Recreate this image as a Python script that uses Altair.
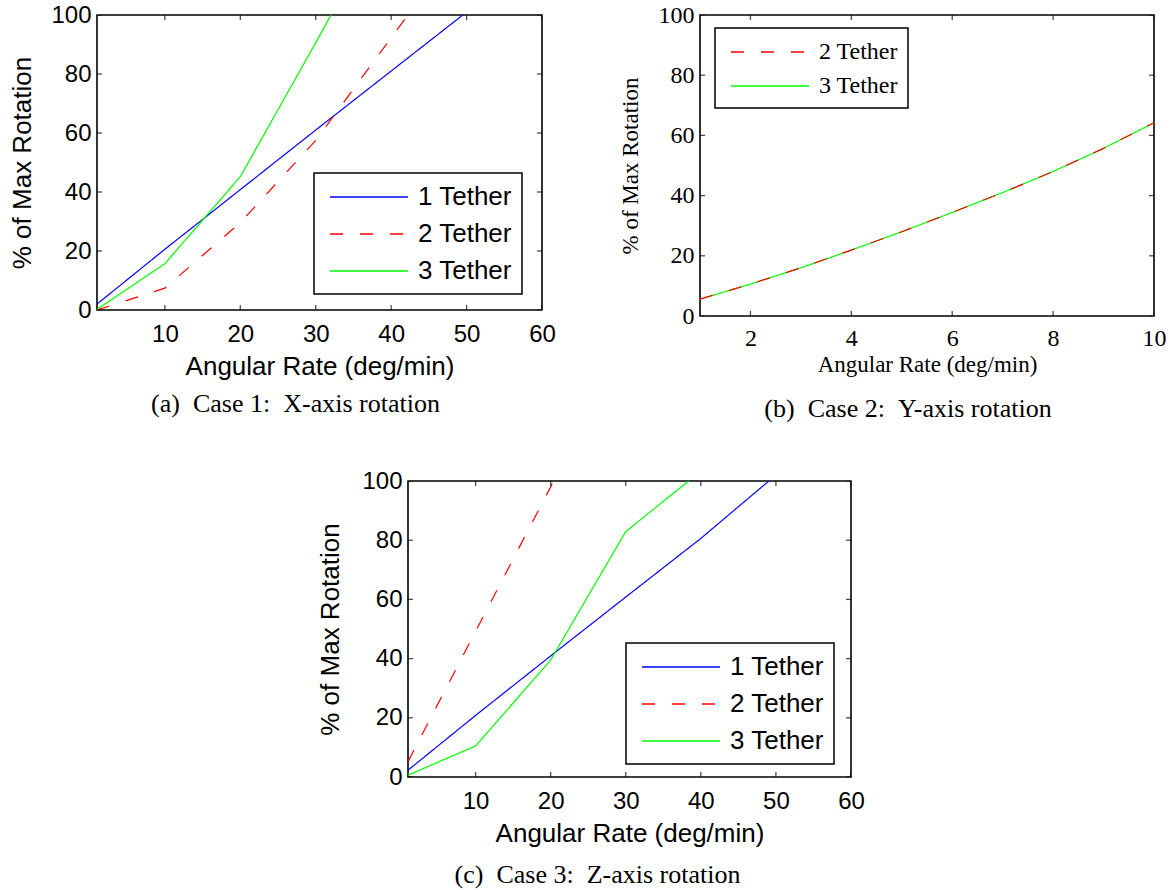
import altair as alt
import pandas as pd

# Case 1: X-axis rotation (% of max rotation vs angular rate)
x_rate = [1, 10, 20, 30, 40, 50]
x_one = [2.0, 20.6, 40.8, 61.0, 81.0, 101.0]
x_two = [0.0, 7.4, 29.6, 57.5, 92.3, 127.0]
x_three_rate = [1, 10, 20, 30, 40]
x_three = [0.2, 15.7, 45.2, 90.6, 137.0]

# Case 2: Y-axis rotation (both tether layouts give the same curve)
y_rate = [1, 2, 3, 4, 5, 6, 7, 8, 9, 10]
y_two = [5.6, 10.6, 16.0, 21.9, 28.0, 34.4, 41.0, 48.0, 55.7, 64.2]
y_three = [5.6, 10.6, 16.0, 21.9, 28.0, 34.4, 41.0, 48.0, 55.7, 64.2]

# Case 3: Z-axis rotation
z_rate = [1, 10, 20, 30, 40, 50]
z_one = [2.3, 20.8, 40.9, 60.8, 80.6, 102.0]
z_two_rate = [1, 10, 20, 30]
z_two = [5.2, 49.2, 98.0, 147.0]
z_three_rate = [1, 10, 20, 30, 40]
z_three = [0.6, 10.5, 39.5, 82.9, 103.3]

pct_ticks = [0, 20, 40, 60, 80, 100]
wide_ticks = [10, 20, 30, 40, 50, 60]
narrow_ticks = [2, 4, 6, 8, 10]

COLORS = {"1 Tether": "#0000ff", "2 Tether": "#ff0000", "3 Tether": "#00ff00"}
DASHES = {"1 Tether": [1, 0], "2 Tether": [13, 17], "3 Tether": [1, 0]}


def frame(rates, values, name):
    return pd.DataFrame({"rate": rates, "pct": values, "series": name})


def panel(frames, names, x_domain, x_ticks, width, height, font, tick_fs,
          title_fs, legend_fs, legend_xy, legend_row_pad, x_pads, y_title_pad,
          caption, caption_dx, caption_offset):
    xs = alt.Scale(domain=x_domain, nice=False, zero=False)
    ys = alt.Scale(domain=[0, 100], nice=False, zero=False)
    x_axis = alt.Axis(values=x_ticks, title="Angular Rate (deg/min)", grid=False,
                      domain=False, ticks=False, tickSize=0, labelFlush=False,
                      labelFont=font, labelFontSize=tick_fs, labelColor="black",
                      labelPadding=x_pads[0], titleFont=font, titleFontSize=title_fs,
                      titleFontWeight="normal", titleColor="black",
                      titlePadding=x_pads[1])
    y_axis = alt.Axis(values=pct_ticks, title="% of Max Rotation", grid=False,
                      domain=False, ticks=False, tickSize=0, labelFlush=False,
                      labelFont=font, labelFontSize=tick_fs, labelColor="black",
                      labelPadding=6, titleFont=font, titleFontSize=title_fs,
                      titleFontWeight="normal", titleColor="black",
                      titlePadding=y_title_pad)
    legend = alt.Legend(orient="none", legendX=legend_xy[0], legendY=legend_xy[1],
                        title=None, direction="vertical", fillColor="white",
                        strokeColor="black", padding=10, rowPadding=legend_row_pad,
                        symbolType="M-3,0H3", symbolSize=676,
                        symbolStrokeWidth=1.3, symbolOffset=31, labelOffset=35,
                        labelFont=font, labelFontSize=legend_fs, labelColor="black")
    color = alt.Color("series:N", legend=legend,
                      scale=alt.Scale(domain=names, range=[COLORS[n] for n in names]))
    dash = alt.StrokeDash("series:N", legend=legend,
                          scale=alt.Scale(domain=names, range=[DASHES[n] for n in names]))

    layers = []
    for df in frames:
        layers.append(
            alt.Chart(df).mark_line(clip=True, strokeWidth=1.2).encode(
                x=alt.X("rate:Q", scale=xs, axis=x_axis),
                y=alt.Y("pct:Q", scale=ys, axis=y_axis),
                color=color,
                strokeDash=dash,
            )
        )

    # inward tick marks on all four sides of the box
    xt = pd.DataFrame({"t": x_ticks})
    yt = pd.DataFrame({"t": pct_ticks})
    for edge in (0, height):
        layers.append(
            alt.Chart(xt).mark_tick(orient="vertical", size=10, thickness=1.3,
                                    color="black", clip=True).encode(
                x=alt.X("t:Q", scale=xs, axis=x_axis), y=alt.value(edge))
        )
    for edge in (0, width):
        layers.append(
            alt.Chart(yt).mark_tick(orient="horizontal", size=10, thickness=1.3,
                                    color="black", clip=True).encode(
                y=alt.Y("t:Q", scale=ys, axis=y_axis), x=alt.value(edge))
        )

    return alt.layer(*layers).properties(
        width=width, height=height,
        title=alt.TitleParams(caption, orient="bottom", anchor="middle", frame="group",
                              font="Liberation Serif", fontSize=26, fontWeight="normal",
                              color="black", offset=caption_offset, dx=caption_dx),
    )


sans = "Liberation Sans"
serif = "Liberation Serif"

case1 = panel(
    [frame(x_rate, x_one, "1 Tether"), frame(x_rate, x_two, "2 Tether"),
     frame(x_three_rate, x_three, "3 Tether")],
    ["1 Tether", "2 Tether", "3 Tether"], [1, 60], wide_ticks, 445, 295,
    sans, 24, 26, 26, (217, 158), 10, (12, 7), 15,
    "(a)\u2002Case 1:\u2002X-axis rotation", -24, 12)

case2 = panel(
    [frame(y_rate, y_three, "3 Tether"), frame(y_rate, y_two, "2 Tether")],
    ["2 Tether", "3 Tether"], [1, 10], narrow_ticks, 454, 301,
    serif, 24, 23, 24, (15, 13), 8, (10, 3), 16,
    "(b)\u2002Case 2:\u2002Y-axis rotation", -19, 20)

case3 = panel(
    [frame(z_rate, z_one, "1 Tether"), frame(z_two_rate, z_two, "2 Tether"),
     frame(z_three_rate, z_three, "3 Tether")],
    ["1 Tether", "2 Tether", "3 Tether"], [1, 60], wide_ticks, 443, 296,
    sans, 24, 26, 26, (218, 162), 10, (12, 7), 18,
    "(c)\u2002Case 3:\u2002Z-axis rotation", -32, 16)

spacer = alt.Chart(pd.DataFrame({"v": [0]})).mark_point(opacity=0).encode(
    x=alt.value(0), y=alt.value(0)
).properties(width=220, height=10, view=alt.ViewBackground(strokeOpacity=0))

top_row = alt.hconcat(case1, case2, spacing=61).resolve_scale(
    color="independent", strokeDash="independent")
bottom_row = alt.hconcat(spacer, case3, spacing=0).resolve_scale(
    color="independent", strokeDash="independent")

chart = alt.vconcat(top_row, bottom_row, spacing=45).resolve_scale(
    color="independent", strokeDash="independent"
).properties(
    padding={"left": 9, "top": 2, "right": 0, "bottom": 0},
    background="white",
).configure_view(
    stroke="black", strokeWidth=1.6
).configure_legend(
    strokeWidth=1.5
)

chart.save("out.html", embed_options={"renderer": "svg", "actions": False})
